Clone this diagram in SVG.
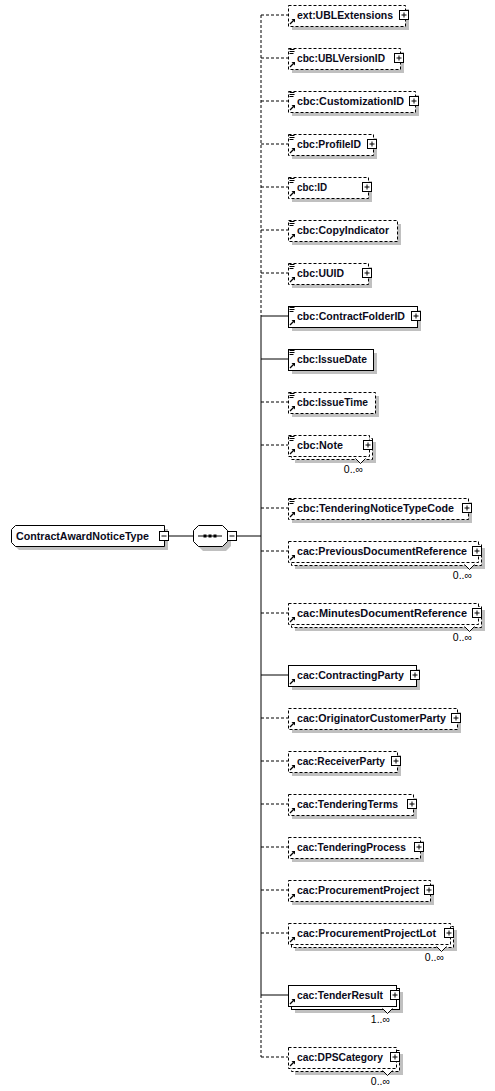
<svg xmlns="http://www.w3.org/2000/svg" xmlns:xlink="http://www.w3.org/1999/xlink" width="495" height="1091" viewBox="0 0 495 1091">
<style>
.bg{fill:#ffffff}
.sh{fill:#c0c0c0;stroke:none}
.bx{fill:#ffffff;stroke:#000000;stroke-width:1}
.dash{stroke-dasharray:3,2}
.ln{fill:none;stroke:#000000;stroke-width:1}
.t{font-family:"Liberation Sans",Arial,sans-serif;font-size:11px;font-weight:bold;fill:#0a0a1a}
.m{font-family:"Liberation Sans",Arial,sans-serif;font-size:10.5px;fill:#000000}
</style>
<defs>
<g id="plus"><rect x="0.5" y="0.5" width="9" height="9" fill="#ffffff" stroke="#000000"/><path d="M2.5,5H7.5M5,2.5V7.5" stroke="#000000" fill="none"/></g>
<g id="minus"><rect x="0.5" y="0.5" width="9" height="9" fill="#ffffff" stroke="#000000"/><path d="M2.5,5H7.5" stroke="#000000" fill="none"/></g>
<g id="lines"><path d="M1.5,1.5H6.5M1.5,3.5H6.5M1.5,5.5H5.5" stroke="#000000" fill="none"/></g>
<g id="arrow"><path d="M2,19L5.5,15.5" stroke="#000000" stroke-width="1.3" fill="none"/><path d="M3.5,14H7V17.5Z" fill="#000000"/></g>
</defs>
<rect class="bg" x="0" y="0" width="495" height="1091"/>

<g id="connectors">
<path class="ln" d="M168,536H193"/>
<path class="ln" d="M237,536H261"/>
<path class="ln dash" d="M261,15V316"/>
<path class="ln" d="M261,316V995"/>
<path class="ln dash" d="M261,995V1057"/>
<path class="ln dash" d="M261,15H288"/>
<path class="ln dash" d="M261,58H288"/>
<path class="ln dash" d="M261,101H288"/>
<path class="ln dash" d="M261,144H288"/>
<path class="ln dash" d="M261,187H288"/>
<path class="ln dash" d="M261,230H288"/>
<path class="ln dash" d="M261,273H288"/>
<path class="ln" d="M261,316H288"/>
<path class="ln" d="M261,359H288"/>
<path class="ln dash" d="M261,402H288"/>
<path class="ln dash" d="M261,445H288"/>
<path class="ln dash" d="M261,508H288"/>
<path class="ln dash" d="M261,551H288"/>
<path class="ln dash" d="M261,613H288"/>
<path class="ln" d="M261,675H288"/>
<path class="ln dash" d="M261,718H288"/>
<path class="ln dash" d="M261,761H288"/>
<path class="ln dash" d="M261,804H288"/>
<path class="ln dash" d="M261,847H288"/>
<path class="ln dash" d="M261,890H288"/>
<path class="ln dash" d="M261,933H288"/>
<path class="ln" d="M261,995H288"/>
<path class="ln dash" d="M261,1057H288"/>
</g>

<g id="root">
<path class="sh" d="M19,529H168V550H19L15,546V533Z"/>
<path class="bx" d="M15.5,525.5H164.5V546.5H15.5L11.5,542.5V529.5Z"/>
<text class="t" x="16" y="540" textLength="133" lengthAdjust="spacingAndGlyphs">ContractAwardNoticeType</text>
<use href="#minus" x="159" y="531"/>
</g>

<g id="sequence">
<path class="sh" d="M203,529H226L231,534V546L226,551H203L198,546V534Z"/>
<path class="bx" d="M198.5,525.5H222.5L227.5,530.5V541.5L222.5,546.5H198.5L193.5,541.5V530.5Z"/>
<path class="ln" d="M198,536H222"/>
<rect x="203.5" y="534.5" width="3" height="3" fill="#000000"/>
<rect x="208.5" y="534.5" width="3" height="3" fill="#000000"/>
<rect x="213.5" y="534.5" width="3" height="3" fill="#000000"/>
<use href="#minus" x="227" y="531"/>
</g>

<g id="n01" transform="translate(288,5)">
<rect class="sh" x="4" y="4" width="117" height="21"/>
<rect class="bx dash" x="0.5" y="0.5" width="117" height="21"/>
<use href="#arrow"/>
<text class="t" x="9" y="14" textLength="96" lengthAdjust="spacingAndGlyphs">ext:UBLExtensions</text>
<use href="#plus" x="111" y="5"/>
</g>

<g id="n02" transform="translate(288,48)">
<rect class="sh" x="4" y="4" width="112" height="21"/>
<rect class="bx dash" x="0.5" y="0.5" width="112" height="21"/>
<use href="#lines"/><use href="#arrow"/>
<text class="t" x="9" y="14" textLength="88" lengthAdjust="spacingAndGlyphs">cbc:UBLVersionID</text>
<use href="#plus" x="106" y="5"/>
</g>

<g id="n03" transform="translate(288,91)">
<rect class="sh" x="4" y="4" width="127" height="21"/>
<rect class="bx dash" x="0.5" y="0.5" width="127" height="21"/>
<use href="#lines"/><use href="#arrow"/>
<text class="t" x="9" y="14" textLength="107" lengthAdjust="spacingAndGlyphs">cbc:CustomizationID</text>
<use href="#plus" x="121" y="5"/>
</g>

<g id="n04" transform="translate(288,134)">
<rect class="sh" x="4" y="4" width="85" height="21"/>
<rect class="bx dash" x="0.5" y="0.5" width="85" height="21"/>
<use href="#lines"/><use href="#arrow"/>
<text class="t" x="9" y="14" textLength="64" lengthAdjust="spacingAndGlyphs">cbc:ProfileID</text>
<use href="#plus" x="79" y="5"/>
</g>

<g id="n05" transform="translate(288,177)">
<rect class="sh" x="4" y="4" width="80" height="21"/>
<rect class="bx dash" x="0.5" y="0.5" width="80" height="21"/>
<use href="#lines"/><use href="#arrow"/>
<text class="t" x="9" y="14" textLength="30" lengthAdjust="spacingAndGlyphs">cbc:ID</text>
<use href="#plus" x="74" y="5"/>
</g>

<g id="n06" transform="translate(288,220)">
<rect class="sh" x="4" y="4" width="109" height="21"/>
<rect class="bx dash" x="0.5" y="0.5" width="109" height="21"/>
<use href="#lines"/><use href="#arrow"/>
<text class="t" x="9" y="14" textLength="92" lengthAdjust="spacingAndGlyphs">cbc:CopyIndicator</text>
</g>

<g id="n07" transform="translate(288,263)">
<rect class="sh" x="4" y="4" width="80" height="21"/>
<rect class="bx dash" x="0.5" y="0.5" width="80" height="21"/>
<use href="#lines"/><use href="#arrow"/>
<text class="t" x="9" y="14" textLength="47" lengthAdjust="spacingAndGlyphs">cbc:UUID</text>
<use href="#plus" x="74" y="5"/>
</g>

<g id="n08" transform="translate(288,306)">
<rect class="sh" x="4" y="4" width="129" height="21"/>
<rect class="bx" x="0.5" y="0.5" width="129" height="21"/>
<use href="#lines"/><use href="#arrow"/>
<text class="t" x="9" y="14" textLength="108" lengthAdjust="spacingAndGlyphs">cbc:ContractFolderID</text>
<use href="#plus" x="123" y="5"/>
</g>

<g id="n09" transform="translate(288,349)">
<rect class="sh" x="4" y="4" width="85" height="21"/>
<rect class="bx" x="0.5" y="0.5" width="85" height="21"/>
<use href="#lines"/><use href="#arrow"/>
<text class="t" x="9" y="14" textLength="70" lengthAdjust="spacingAndGlyphs">cbc:IssueDate</text>
</g>

<g id="n10" transform="translate(288,392)">
<rect class="sh" x="4" y="4" width="87" height="21"/>
<rect class="bx dash" x="0.5" y="0.5" width="87" height="21"/>
<use href="#lines"/><use href="#arrow"/>
<text class="t" x="9" y="14" textLength="71" lengthAdjust="spacingAndGlyphs">cbc:IssueTime</text>
</g>

<g id="n11" transform="translate(288,435)">
<rect class="sh" x="7" y="7" width="81" height="21"/>
<rect class="bx dash" x="3.5" y="3.5" width="81" height="21"/>
<rect class="bx dash" x="0.5" y="0.5" width="81" height="21"/>
<path d="M67.5,23.5L72.5,28.5L77.5,23.5" fill="#ffffff" stroke="#000000"/>
<use href="#lines"/><use href="#arrow"/>
<text class="t" x="9" y="14" textLength="46" lengthAdjust="spacingAndGlyphs">cbc:Note</text>
<use href="#plus" x="75" y="5"/>
<text class="m" x="75" y="38" text-anchor="end">0..∞</text>
</g>

<g id="n12" transform="translate(288,498)">
<rect class="sh" x="4" y="4" width="180" height="21"/>
<rect class="bx dash" x="0.5" y="0.5" width="180" height="21"/>
<use href="#lines"/><use href="#arrow"/>
<text class="t" x="9" y="14" textLength="157" lengthAdjust="spacingAndGlyphs">cbc:TenderingNoticeTypeCode</text>
<use href="#plus" x="174" y="5"/>
</g>

<g id="n13" transform="translate(288,541)">
<rect class="sh" x="7" y="7" width="190" height="21"/>
<rect class="bx dash" x="3.5" y="3.5" width="190" height="21"/>
<rect class="bx dash" x="0.5" y="0.5" width="190" height="21"/>
<path d="M176.5,23.5L181.5,28.5L186.5,23.5" fill="#ffffff" stroke="#000000"/>
<use href="#arrow"/>
<text class="t" x="9" y="14" textLength="170" lengthAdjust="spacingAndGlyphs">cac:PreviousDocumentReference</text>
<use href="#plus" x="184" y="5"/>
<text class="m" x="184" y="38" text-anchor="end">0..∞</text>
</g>

<g id="n14" transform="translate(288,603)">
<rect class="sh" x="7" y="7" width="190" height="21"/>
<rect class="bx dash" x="3.5" y="3.5" width="190" height="21"/>
<rect class="bx dash" x="0.5" y="0.5" width="190" height="21"/>
<path d="M176.5,23.5L181.5,28.5L186.5,23.5" fill="#ffffff" stroke="#000000"/>
<use href="#arrow"/>
<text class="t" x="9" y="14" textLength="170" lengthAdjust="spacingAndGlyphs">cac:MinutesDocumentReference</text>
<use href="#plus" x="184" y="5"/>
<text class="m" x="184" y="38" text-anchor="end">0..∞</text>
</g>

<g id="n15" transform="translate(288,665)">
<rect class="sh" x="4" y="4" width="128" height="21"/>
<rect class="bx" x="0.5" y="0.5" width="128" height="21"/>
<use href="#arrow"/>
<text class="t" x="9" y="14" textLength="107" lengthAdjust="spacingAndGlyphs">cac:ContractingParty</text>
<use href="#plus" x="122" y="5"/>
</g>

<g id="n16" transform="translate(288,708)">
<rect class="sh" x="4" y="4" width="169" height="21"/>
<rect class="bx dash" x="0.5" y="0.5" width="169" height="21"/>
<use href="#arrow"/>
<text class="t" x="9" y="14" textLength="149" lengthAdjust="spacingAndGlyphs">cac:OriginatorCustomerParty</text>
<use href="#plus" x="163" y="5"/>
</g>

<g id="n17" transform="translate(288,751)">
<rect class="sh" x="4" y="4" width="109" height="21"/>
<rect class="bx dash" x="0.5" y="0.5" width="109" height="21"/>
<use href="#arrow"/>
<text class="t" x="9" y="14" textLength="88" lengthAdjust="spacingAndGlyphs">cac:ReceiverParty</text>
<use href="#plus" x="103" y="5"/>
</g>

<g id="n18" transform="translate(288,794)">
<rect class="sh" x="4" y="4" width="125" height="21"/>
<rect class="bx dash" x="0.5" y="0.5" width="125" height="21"/>
<use href="#arrow"/>
<text class="t" x="9" y="14" textLength="101" lengthAdjust="spacingAndGlyphs">cac:TenderingTerms</text>
<use href="#plus" x="119" y="5"/>
</g>

<g id="n19" transform="translate(288,837)">
<rect class="sh" x="4" y="4" width="132" height="21"/>
<rect class="bx dash" x="0.5" y="0.5" width="132" height="21"/>
<use href="#arrow"/>
<text class="t" x="9" y="14" textLength="109" lengthAdjust="spacingAndGlyphs">cac:TenderingProcess</text>
<use href="#plus" x="126" y="5"/>
</g>

<g id="n20" transform="translate(288,880)">
<rect class="sh" x="4" y="4" width="142" height="21"/>
<rect class="bx dash" x="0.5" y="0.5" width="142" height="21"/>
<use href="#arrow"/>
<text class="t" x="9" y="14" textLength="122" lengthAdjust="spacingAndGlyphs">cac:ProcurementProject</text>
<use href="#plus" x="136" y="5"/>
</g>

<g id="n21" transform="translate(288,923)">
<rect class="sh" x="7" y="7" width="162" height="21"/>
<rect class="bx dash" x="3.5" y="3.5" width="162" height="21"/>
<rect class="bx dash" x="0.5" y="0.5" width="162" height="21"/>
<path d="M148.5,23.5L153.5,28.5L158.5,23.5" fill="#ffffff" stroke="#000000"/>
<use href="#arrow"/>
<text class="t" x="9" y="14" textLength="139" lengthAdjust="spacingAndGlyphs">cac:ProcurementProjectLot</text>
<use href="#plus" x="156" y="5"/>
<text class="m" x="156" y="38" text-anchor="end">0..∞</text>
</g>

<g id="n22" transform="translate(288,985)">
<rect class="sh" x="7" y="7" width="108" height="21"/>
<rect class="bx" x="3.5" y="3.5" width="108" height="21"/>
<rect class="bx" x="0.5" y="0.5" width="108" height="21"/>
<path d="M94.5,23.5L99.5,28.5L104.5,23.5" fill="#ffffff" stroke="#000000"/>
<use href="#arrow"/>
<text class="t" x="9" y="14" textLength="86" lengthAdjust="spacingAndGlyphs">cac:TenderResult</text>
<use href="#plus" x="102" y="5"/>
<text class="m" x="102" y="38" text-anchor="end">1..∞</text>
</g>

<g id="n23" transform="translate(288,1047)">
<rect class="sh" x="7" y="7" width="108" height="21"/>
<rect class="bx dash" x="3.5" y="3.5" width="108" height="21"/>
<rect class="bx dash" x="0.5" y="0.5" width="108" height="21"/>
<path d="M94.5,23.5L99.5,28.5L104.5,23.5" fill="#ffffff" stroke="#000000"/>
<use href="#arrow"/>
<text class="t" x="9" y="14" textLength="86" lengthAdjust="spacingAndGlyphs">cac:DPSCategory</text>
<use href="#plus" x="102" y="5"/>
<text class="m" x="102" y="38" text-anchor="end">0..∞</text>
</g>
</svg>
